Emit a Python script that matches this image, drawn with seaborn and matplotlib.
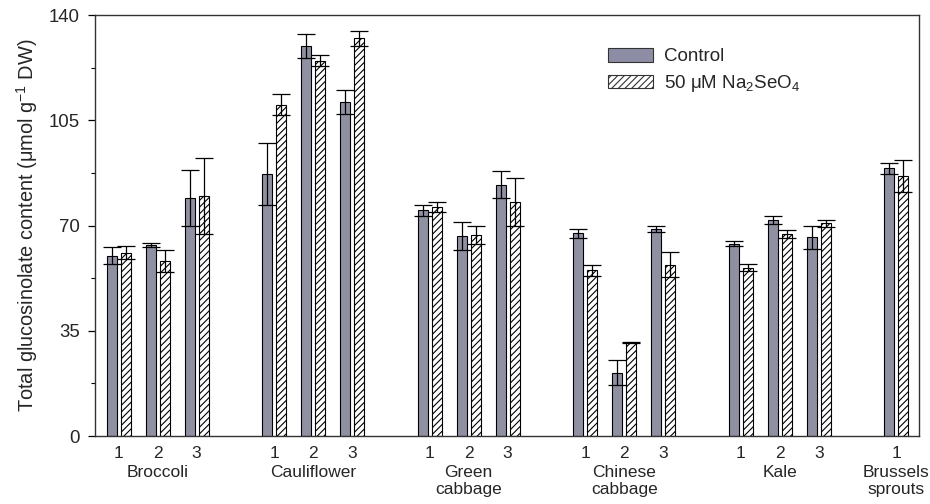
import matplotlib
matplotlib.use("Agg")
import matplotlib.pyplot as plt
from matplotlib.patches import Patch
from matplotlib.ticker import MultipleLocator
import numpy as np
import pandas as pd
import seaborn as sns

# Cultivars per crop (slot index along the x axis; blank slots separate crops)
crops = ["Broccoli", "Cauliflower", "Green\ncabbage", "Chinese\ncabbage", "Kale", "Brussels\nsprouts"]
cultivars = [["1", "2", "3"], ["1", "2", "3"], ["1", "2", "3"], ["1", "2", "3"], ["1", "2", "3"], ["1"]]

# Total glucosinolate content (µmol g-1 DW), mean and SE
control_mean = [60.0, 63.5, 79.2, 87.2, 129.7, 111.0, 75.1, 66.6, 83.6, 67.4, 21.1, 68.8, 64.0, 71.7, 66.1, 89.0]
control_err = [2.8, 0.8, 9.3, 10.3, 4.0, 4.0, 1.8, 4.6, 4.6, 1.5, 4.3, 1.1, 0.8, 1.3, 3.8, 1.8]
selenate_mean = [61.0, 58.2, 79.8, 110.2, 124.8, 132.2, 76.2, 67.0, 77.8, 55.1, 31.2, 57.0, 56.0, 67.3, 70.7, 86.4]
selenate_err = [2.3, 3.6, 12.5, 3.5, 1.8, 2.5, 1.7, 3.0, 8.0, 1.8, 0.2, 4.2, 1.1, 1.3, 1.2, 5.3]

treatments = ["Control", "50 μM Na$_2$SeO$_4$"]
bar_color = "#8d8da6"

# Build slot layout: cultivars of one crop side by side, one empty slot between crops
slot_ids, slot_pos, crop_center = [], [], []
pos = 0
for ci, cults in enumerate(crops):
    start = pos
    for cu in cultivars[ci]:
        slot_ids.append(f"{ci}-{cu}")
        slot_pos.append(pos)
        pos += 1
    crop_center.append((start + pos - 1) / 2)
    pos += 1
n_slots = pos - 1

order = []
k = 0
for p in range(n_slots):
    if k < len(slot_pos) and slot_pos[k] == p:
        order.append(slot_ids[k])
        k += 1
    else:
        order.append(f"gap{p}")

df = pd.DataFrame({
    "slot": slot_ids * 2,
    "treatment": [treatments[0]] * len(slot_ids) + [treatments[1]] * len(slot_ids),
    "value": control_mean + selenate_mean,
    "err": control_err + selenate_err,
})

sns.set_theme(style="white")
plt.rcParams["font.family"] = ["Liberation Sans", "DejaVu Sans"]
plt.rcParams["mathtext.fontset"] = "custom"
plt.rcParams["mathtext.rm"] = "Liberation Sans"
plt.rcParams["mathtext.it"] = "Liberation Sans:italic"
plt.rcParams["mathtext.bf"] = "Liberation Sans:bold"
plt.rcParams["hatch.linewidth"] = 0.8

fig = plt.figure(figsize=(9.3, 5.04), dpi=100)
ax = fig.add_axes([0.1022, 0.1349, 0.8860, 0.8353])

sns.barplot(data=df, x="slot", y="value", hue="treatment", order=order,
            hue_order=treatments, palette=[bar_color, "white"], width=0.72, gap=0.286,
            edgecolor="black", linewidth=0.8, errorbar=None, legend=False, ax=ax)

# Hatch the selenate bars and add error bars from the bar geometry
lookup = {(r.slot, r.treatment): r.err for r in df.itertuples()}
for h, cont in zip(treatments, ax.containers):
    for bar in cont:
        if h == treatments[1]:
            bar.set_facecolor("white")
            bar.set_hatch("/////")
        xc = bar.get_x() + bar.get_width() / 2
        slot_name = order[int(round(xc))]
        err = lookup[(slot_name, h)]
        ax.errorbar(xc, bar.get_height(), yerr=err, fmt="none", ecolor="black",
                    elinewidth=0.9, capsize=6.5, capthick=0.9, zorder=3)

ax.set_xlim(-0.61, n_slots - 1 + 0.58)
ax.set_ylim(0, 140)
ax.yaxis.set_major_locator(MultipleLocator(35))
ax.yaxis.set_minor_locator(MultipleLocator(17.5))
ax.tick_params(axis="y", which="major", direction="out", length=5, width=0.9,
               labelsize=13.4, color="black", left=True, pad=6)
ax.tick_params(axis="y", which="minor", direction="out", length=3, width=0.8,
               color="black", left=True)
ax.set_xticks(slot_pos)
ax.set_xticklabels([s.split("-")[1] for s in slot_ids])
ax.tick_params(axis="x", length=0, labelsize=12.5, pad=7)
for sp in ax.spines.values():
    sp.set_color("#333333")
    sp.set_linewidth(1.0)

for ci, name in enumerate(crops):
    ax.annotate(name, xy=(crop_center[ci], 0), xycoords=("data", "axes fraction"),
                xytext=(0, -21), textcoords="offset points", ha="center", va="top",
                fontsize=12.5, linespacing=1.15)

ax.set_xlabel("")
ax.set_ylabel("Total glucosinolate content (μmol g$^{-1}$ DW)", fontsize=14.4, labelpad=6)

handles = [Patch(facecolor=bar_color, edgecolor="#333333", linewidth=0.8),
           Patch(facecolor="white", edgecolor="#333333", linewidth=0.8, hatch="/////")]
ax.legend(handles, treatments, loc="upper left", bbox_to_anchor=(0.622, 0.922),
          frameon=False, fontsize=13.5, handlelength=2.4, handleheight=0.75,
          handletextpad=0.59, labelspacing=0.42, borderpad=0, borderaxespad=0)

fig.savefig("out.png", dpi=100)
